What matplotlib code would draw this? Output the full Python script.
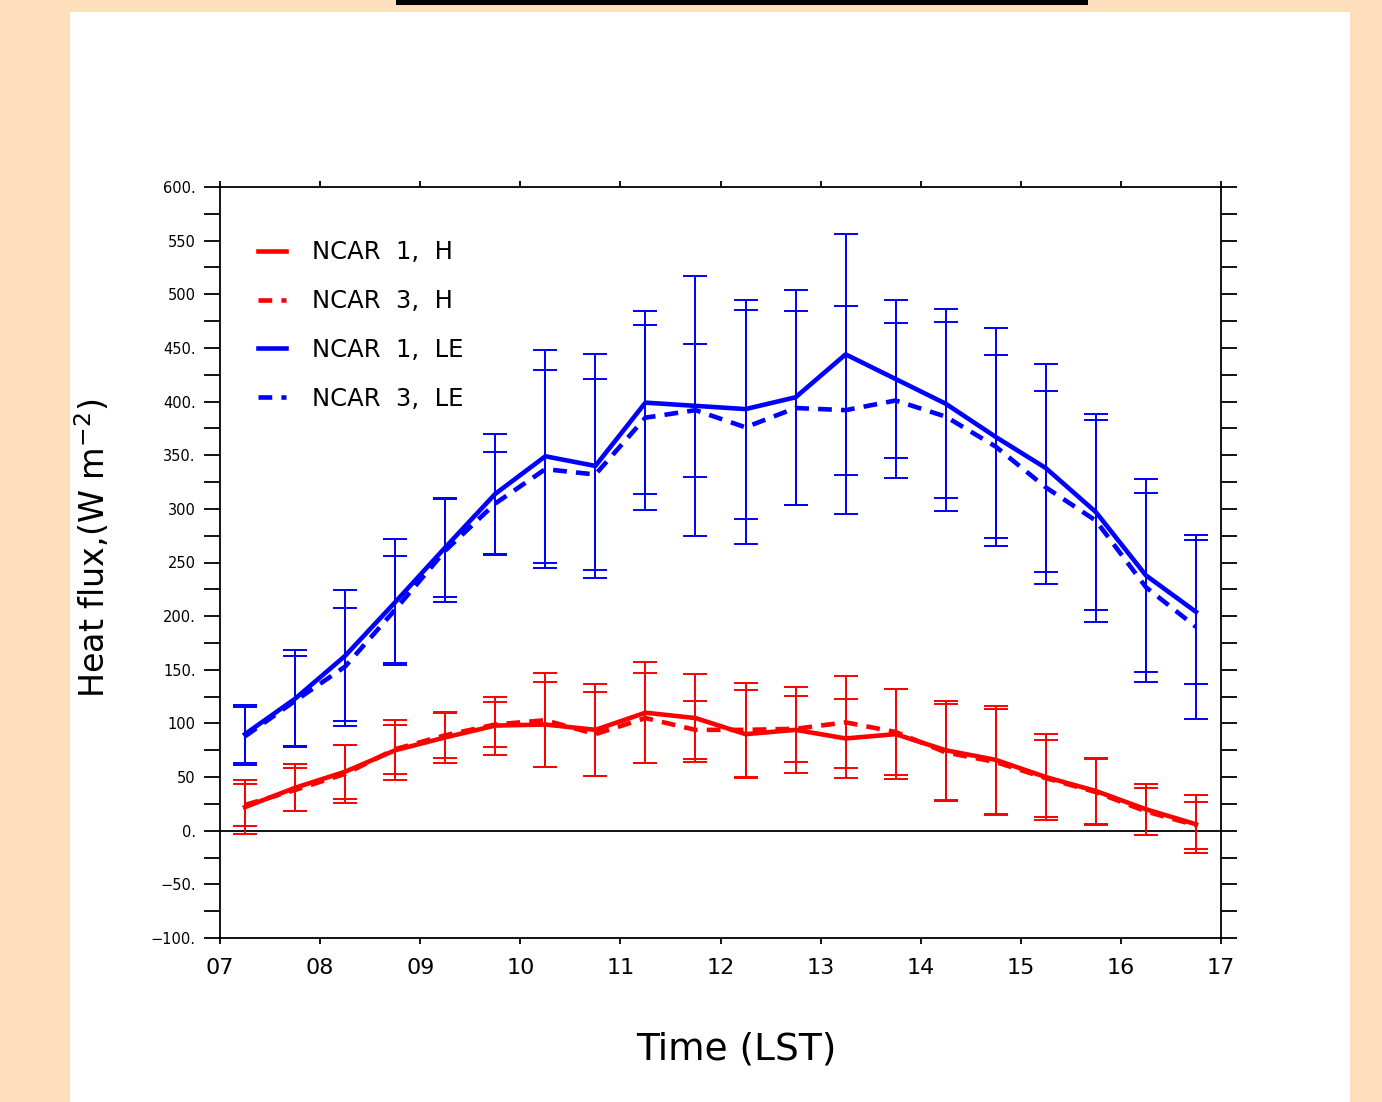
import numpy as np
import matplotlib
matplotlib.use("Agg")
import matplotlib.pyplot as plt
from matplotlib.patches import Rectangle
from matplotlib.lines import Line2D

# hora local (LST), cada media hora
hours = [7.25, 7.75, 8.25, 8.75, 9.25, 9.75, 10.25, 10.75, 11.25, 11.75,
         12.25, 12.75, 13.25, 13.75, 14.25, 14.75, 15.25, 15.75, 16.25, 16.75]

# calor sensible H
h_ncar1 = [22, 40, 55, 75, 87, 98, 99, 94, 110, 105,
           90, 94, 86, 90, 75, 66, 50, 37, 20, 6]
h_ncar1_sd = [25, 22, 25, 28, 24, 27, 40, 43, 47, 41,
              41, 40, 37, 42, 46, 50, 40, 31, 24, 27]
h_ncar3 = [24, 38, 53, 76, 89, 99, 103, 90, 105, 94,
           94, 95, 101, 92, 73, 64, 49, 36, 18, 5]
h_ncar3_sd = [20, 20, 27, 23, 21, 21, 44, 39, 42, 27,
              44, 31, 43, 40, 45, 49, 36, 31, 22, 22]

# calor latente LE
le_ncar1 = [90, 123, 163, 213, 264, 314, 349, 340, 399, 396,
            393, 404, 444, 421, 398, 367, 338, 297, 238, 204]
le_ncar1_sd = [27, 45, 61, 59, 46, 56, 99, 104, 85, 121,
               102, 100, 112, 74, 88, 102, 97, 91, 90, 67]
le_ncar3 = [88, 121, 153, 206, 261, 305, 337, 332, 385, 392,
            376, 394, 392, 401, 386, 358, 320, 289, 227, 190]
le_ncar3_sd = [27, 42, 55, 50, 48, 48, 92, 89, 86, 62,
               109, 90, 97, 72, 88, 85, 90, 94, 88, 86]

ytick_vals = [-100, -50, 0, 50, 100, 150, 200, 250, 300, 350, 400, 450, 500, 550, 600]
ytick_txt = ["\u2212100.", "\u221250.", "0.", "50", "100", "150.", "200.", "250",
             "300", "350.", "400.", "450.", "500", "550", "600."]
xtick_vals = [7, 8, 9, 10, 11, 12, 13, 14, 15, 16, 17]
xtick_txt = ["07", "08", "09", "10", "11", "12", "13", "14", "15", "16", "17"]

fig = plt.figure(figsize=(13.82, 11.02), dpi=100)
fig.patch.set_facecolor("#FEDFBC")
# panel blanco y barra negra de arriba
fig.patches.append(Rectangle((70 / 1382, 0), 1280 / 1382, 1090 / 1102,
                             transform=fig.transFigure, facecolor="white",
                             edgecolor="none", zorder=-10))
fig.patches.append(Rectangle((396 / 1382, 1097 / 1102), 692 / 1382, 5 / 1102,
                             transform=fig.transFigure, facecolor="black",
                             edgecolor="none", zorder=-10))

ax = fig.add_axes([220 / 1382, 164 / 1102, 1001 / 1382, 751 / 1102])
ax.set_facecolor("white")

dash = (3, 2)
lw = 3.3
ebkw = dict(elinewidth=1.4, capsize=8.6, capthick=1.4)

ax.errorbar(hours, h_ncar3, yerr=h_ncar3_sd, color="red", lw=lw, dashes=dash, **ebkw)
ax.errorbar(hours, h_ncar1, yerr=h_ncar1_sd, color="red", lw=lw, **ebkw)
ax.errorbar(hours, le_ncar3, yerr=le_ncar3_sd, color="blue", lw=lw, dashes=dash, **ebkw)
ax.errorbar(hours, le_ncar1, yerr=le_ncar1_sd, color="blue", lw=lw, **ebkw)

ax.axhline(0, color="black", lw=1.3, zorder=1)

ax.set_xlim(7, 17)
ax.set_ylim(-100, 600)
ax.set_xticks(xtick_vals)
ax.set_xticklabels(xtick_txt, fontsize=16)
ax.set_yticks(ytick_vals)
ax.set_yticklabels(ytick_txt, fontsize=10.5)
ax.set_yticks(np.arange(-75, 600, 50), minor=True)
ax.tick_params(axis="y", which="both", direction="out", length=11.5, width=1.3,
               left=True, right=True, pad=6)
ax.tick_params(axis="x", which="both", direction="out", length=4.5, width=1.3,
               top=True, bottom=True, pad=10)
for s in ax.spines.values():
    s.set_linewidth(1.3)

ax.set_xlabel("Time (LST)", fontsize=27, va="center")
ax.xaxis.set_label_coords(0.516, -0.149)
ax.set_ylabel(r"Heat flux,(W m$^{-2}$)", fontsize=24, va="center")
ax.yaxis.set_label_coords(-0.127, 0.519)

handles = [Line2D([], [], color="red", lw=lw),
           Line2D([], [], color="red", lw=lw, dashes=dash),
           Line2D([], [], color="blue", lw=lw),
           Line2D([], [], color="blue", lw=lw, dashes=dash)]
labels = ["NCAR  1,  H", "NCAR  3,  H", "NCAR  1,  LE", "NCAR  3,  LE"]
ax.legend(handles, labels, loc="upper left", bbox_to_anchor=(0.038, 0.929),
          frameon=False, fontsize=17.5, handlelength=1.15, handletextpad=1.05,
          labelspacing=1.02, borderpad=0, borderaxespad=0)

fig.savefig("out.png", dpi=100, facecolor=fig.get_facecolor())
